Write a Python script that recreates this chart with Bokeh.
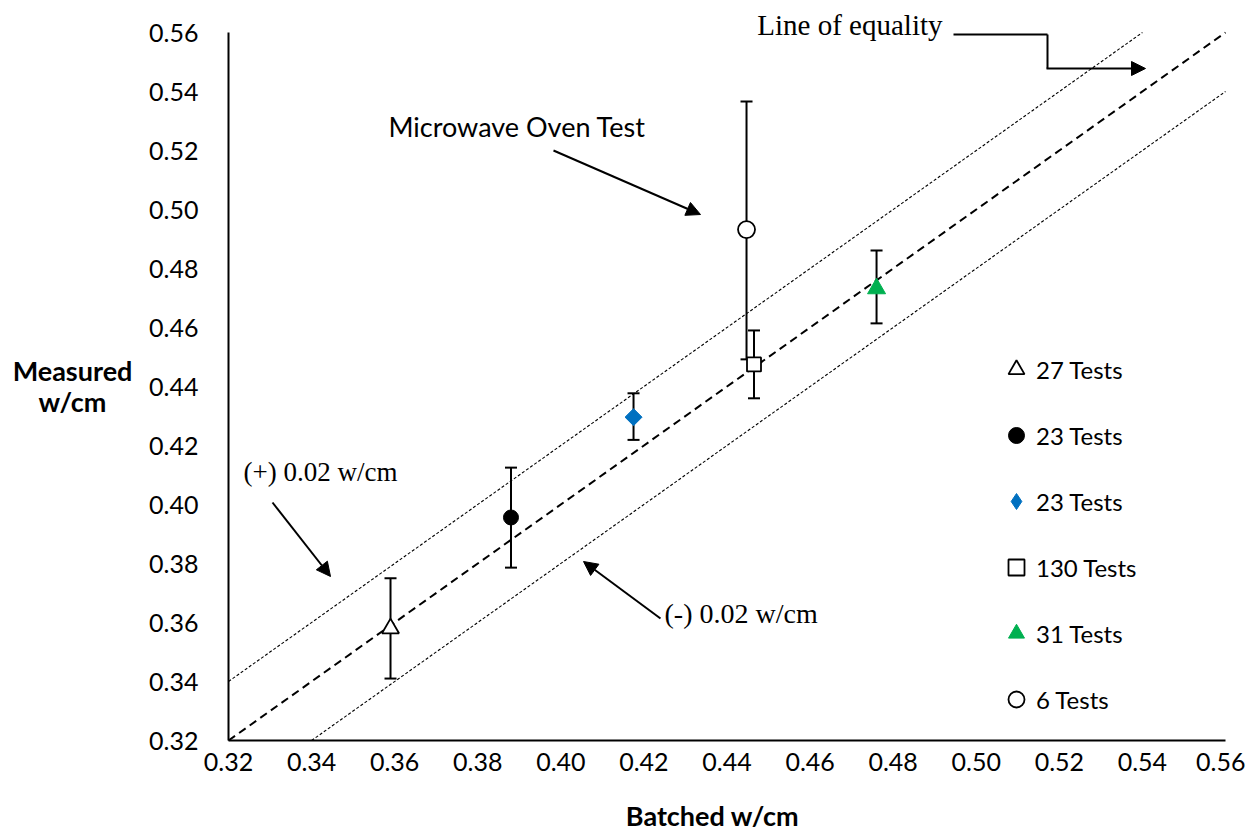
import math
from bokeh.plotting import figure
from bokeh.models import (ColumnDataSource, Whisker, TeeHead, Arrow, NormalHead, Label,
                          Legend, LegendItem, FixedTicker, NumeralTickFormatter, Range1d)
from bokeh.embed import file_html
from bokeh.resources import INLINE

# ---------------- data ----------------
series_labels = ["27 Tests", "23 Tests", "23 Tests", "130 Tests", "31 Tests", "6 Tests"]
batched = [0.359, 0.388, 0.4175, 0.4465, 0.476, 0.4447]
measured = [0.358, 0.3956, 0.4296, 0.4475, 0.4732, 0.4932]
err_low = [0.341, 0.3786, 0.4219, 0.436, 0.4614, 0.4492]
err_high = [0.375, 0.4125, 0.4377, 0.459, 0.4861, 0.5366]
axis_lo, axis_hi = 0.32, 0.56
tick_values = [0.32, 0.34, 0.36, 0.38, 0.40, 0.42, 0.44, 0.46, 0.48, 0.50, 0.52, 0.54, 0.56]
band = 0.02

# ---------------- layout (pixel geometry of the axes box) ----------------
W, H = 1245, 832
AX_L, AX_R, AX_T, AX_B = 228, 1225, 32, 740


def dx(px):
    return axis_lo + (px - AX_L) / (AX_R - AX_L) * (axis_hi - axis_lo)


def dy(py):
    return axis_lo + (AX_B - py) / (AX_B - AX_T) * (axis_hi - axis_lo)


# the frame covers the whole canvas; axes are pinned at 0.32 with bounds
p = figure(width=W, height=H, x_range=Range1d(dx(0), dx(W)), y_range=Range1d(dy(H), dy(0)),
           output_backend="svg", toolbar_location=None,
           min_border_left=0, min_border_right=0, min_border_top=0, min_border_bottom=0)
p.xgrid.visible = False
p.ygrid.visible = False
p.outline_line_color = None
p.background_fill_color = "white"
p.border_fill_color = "white"

for ax in (p.xaxis[0], p.yaxis[0]):
    ax.ticker = FixedTicker(ticks=tick_values)
    ax.formatter = NumeralTickFormatter(format="0.00")
    ax.bounds = (axis_lo, axis_hi)
    ax.fixed_location = axis_lo
    ax.major_tick_in = 0
    ax.major_tick_out = 0
    ax.minor_tick_in = 0
    ax.minor_tick_out = 0
    ax.axis_line_width = 2
    ax.axis_line_color = "black"
    ax.major_label_text_font = "Lato"
    ax.major_label_text_font_size = "25px"
    ax.major_label_text_color = "black"
p.yaxis[0].major_label_standoff = 30
p.xaxis[0].major_label_standoff = 12

# reference lines
p.line([axis_lo, axis_hi], [axis_lo, axis_hi], line_dash="8 5", line_width=2, line_color="black")
p.line([axis_lo, axis_hi - band], [axis_lo + band, axis_hi], line_dash="3 2", line_width=1.1, line_color="black")
p.line([axis_lo + band, axis_hi], [axis_lo, axis_hi - band], line_dash="3 2", line_width=1.1, line_color="black")

# error bars
src = ColumnDataSource(dict(x=batched, upper=err_high, lower=err_low))
p.add_layout(Whisker(source=src, base="x", upper="upper", lower="lower", dimension="height",
                     line_width=2, line_color="black",
                     upper_head=TeeHead(size=12, line_width=2, line_color="black"),
                     lower_head=TeeHead(size=12, line_width=2, line_color="black")))

styles = [
    dict(marker="triangle", size=17, fill_color="white", line_color="black", line_width=1.8),
    dict(marker="circle", size=15, fill_color="black", line_color="black", line_width=1),
    dict(marker="square", size=12, angle=math.pi / 4, fill_color="#0070C0", line_color="#0070C0", line_width=1),
    dict(marker="square", size=14, fill_color="white", line_color="black", line_width=1.8),
    dict(marker="triangle", size=18, fill_color="#00B050", line_color="#00B050", line_width=1),
    dict(marker="circle", size=17, fill_color="white", line_color="black", line_width=1.8),
]

items = []
for i, st in enumerate(styles):
    r = p.scatter([batched[i]], [measured[i]], **st)
    leg_r = r
    if st.get("angle"):
        # legend swatch for the rotated square (legend ignores glyph angle)
        leg_r = p.scatter([float("nan")], [float("nan")], marker="diamond", size=12,
                          fill_color=st["fill_color"], line_color=st["line_color"])
    items.append(LegendItem(label=series_labels[i], renderers=[leg_r]))

legend = Legend(items=items, location=(996, H - 719), orientation="vertical",
                glyph_width=40, glyph_height=40, spacing=26, padding=0, margin=0,
                label_standoff=0, border_line_color=None, background_fill_alpha=0,
                label_text_font="Lato", label_text_font_size="24px",
                label_text_baseline="middle", label_text_color="black")
p.add_layout(legend)


# ---------------- annotations ----------------
def arrow(x0, y0, x1, y1, head=True):
    p.add_layout(Arrow(end=NormalHead(size=14, fill_color="black", line_color="black") if head else None,
                       x_start=dx(x0), y_start=dy(y0), x_end=dx(x1), y_end=dy(y1),
                       line_width=2, line_color="black"))


def label(px, py, text, font, size, align="left", bold=False):
    p.add_layout(Label(x=dx(px), y=dy(py), text=text, text_font=font, text_font_size=size,
                       text_font_style="bold" if bold else "normal",
                       text_baseline="middle", text_align=align, text_color="black"))


arrow(553, 150, 700, 214)
arrow(272, 502, 330, 576)
arrow(660, 618, 583, 561)
arrow(953, 34, 1047, 34, head=False)
arrow(1047, 34, 1047, 68, head=False)
arrow(1046, 68, 1145, 68)

serif = "Liberation Serif"
label(388, 126, "Microwave Oven Test", "Lato", "27px")
label(243, 471, "(+) 0.02 w/cm", serif, "27px")
label(664, 613, "(-) 0.02 w/cm", serif, "28px")
label(942, 24, "Line of equality", serif, "29px", align="right")

# axis titles
label(712, 815, "Batched w/cm", "Lato", "27px", align="center", bold=True)
label(72, 370, "Measured", "Lato", "27px", align="center", bold=True)
label(72, 401, "w/cm", "Lato", "27px", align="center", bold=True)

open("out.html", "w").write(file_html(p, INLINE))
